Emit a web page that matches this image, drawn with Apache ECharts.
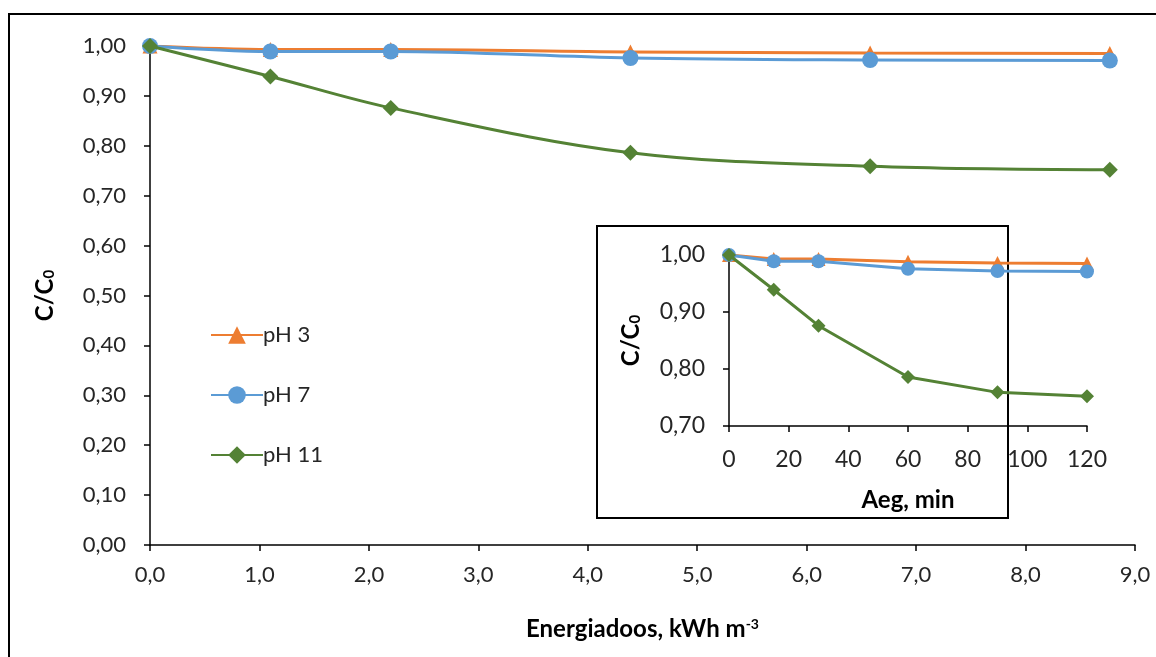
<!DOCTYPE html>
<html><head><meta charset="utf-8">
<script src="https://cdn.jsdelivr.net/npm/echarts@6/dist/echarts.min.js"></script>
<style>html,body{margin:0;padding:0;background:#fff}#c{width:1156px;height:657px}</style>
</head><body><div id="c"></div>
<script>
// Data
const timeMin = [0, 15, 30, 60, 90, 120];
const energy = [0, 1.1, 2.2, 4.39, 6.58, 8.77];
const seriesNames = ['pH 3', 'pH 7', 'pH 11'];
const pH3 = [1.000, 0.993, 0.993, 0.988, 0.986, 0.985];
const pH7 = [1.000, 0.989, 0.989, 0.976, 0.972, 0.971];
const pH11 = [1.000, 0.939, 0.876, 0.786, 0.759, 0.752];

const colors = ['#ED7D31', '#5B9BD5', '#548235'];
const symbols = ['triangle', 'circle', 'diamond'];
const allVals = [pH3, pH7, pH11];
const FONT = 'Lato';

const chart = echarts.init(document.getElementById('c'));
const fmt2 = v => v.toFixed(2).replace('.', ',');
const fmt1 = v => v.toFixed(1).replace('.', ',');

function axisCommon() {
  return {
    axisLine: {show: true, lineStyle: {color: '#000', width: 1.5}},
    axisTick: {show: true, length: 6, lineStyle: {color: '#000', width: 1.5}},
    splitLine: {show: false},
  };
}
const labelStyle = {color: '#262626', fontFamily: FONT, fontSize: 22};
const insetLabelStyle = {color: '#262626', fontFamily: FONT, fontSize: 23};
const nameRich = {
  b: {fontFamily: FONT, fontWeight: 'bold', fontSize: 24, color: '#000'},
  sub: {fontFamily: FONT, fontWeight: 'bold', fontSize: 15, color: '#000', verticalAlign: 'bottom', padding: [9, 0, 0, 0]},
  sup: {fontFamily: FONT, fontWeight: 'bold', fontSize: 14, color: '#000', verticalAlign: 'top', padding: [0, 0, 9, 0]}
};

const series = [];
allVals.forEach((vals, i) => {
  series.push({
    name: seriesNames[i], type: 'line', xAxisIndex: 0, yAxisIndex: 0,
    data: energy.map((x, k) => [x, vals[k]]),
    smooth: 0.35, symbol: symbols[i], symbolSize: i === 0 ? 15 : 16,
    lineStyle: {color: colors[i], width: 3}, itemStyle: {color: colors[i]},
    z: 2 + i
  });
});
allVals.forEach((vals, i) => {
  series.push({
    name: seriesNames[i], type: 'line', xAxisIndex: 1, yAxisIndex: 1,
    data: timeMin.map((x, k) => [x, vals[k]]),
    smooth: false, symbol: symbols[i], symbolSize: 14,
    lineStyle: {color: colors[i], width: 3}, itemStyle: {color: colors[i]},
    z: 2 + i
  });
});

chart.setOption({
  animation: false,
  backgroundColor: '#fff',
  graphic: [
    {type: 'rect', shape: {x: 9, y: 14, width: 1160, height: 660}, style: {fill: 'none', stroke: '#000', lineWidth: 2}},
    {type: 'rect', shape: {x: 597, y: 226, width: 411, height: 292}, style: {fill: 'none', stroke: '#000', lineWidth: 2}}
  ],
  legend: {
    orient: 'vertical', left: 205, top: 319, itemGap: 38, itemWidth: 52, itemHeight: 22,
    data: seriesNames,
    textStyle: {fontFamily: FONT, fontSize: 22, color: '#262626', padding: [0, 0, 0, -5]}
  },
  grid: [
    {left: 150, top: 46, right: 21, bottom: 112, containLabel: false},
    {left: 729, top: 255, right: 69, bottom: 231, containLabel: false}
  ],
  xAxis: [
    Object.assign(axisCommon(), {
      type: 'value', gridIndex: 0, min: 0, max: 9, interval: 1,
      axisLabel: Object.assign({formatter: fmt1, margin: 19}, labelStyle),
      name: '{b|Energiadoos, kWh m}{sup|-3}', nameLocation: 'middle', nameGap: 72,
      nameTextStyle: {rich: nameRich}
    }),
    Object.assign(axisCommon(), {
      type: 'value', gridIndex: 1, min: 0, max: 120, interval: 20,
      axisLabel: Object.assign({formatter: v => String(v), margin: 22}, insetLabelStyle),
      name: '{b|Aeg, min}', nameLocation: 'middle', nameGap: 62,
      nameTextStyle: {rich: nameRich}
    })
  ],
  yAxis: [
    Object.assign(axisCommon(), {
      type: 'value', gridIndex: 0, min: 0, max: 1, interval: 0.1,
      axisLabel: Object.assign({formatter: fmt2, margin: 24}, labelStyle),
      name: '{b|C/C}{sub|0}', nameLocation: 'middle', nameGap: 93, nameRotate: 90,
      nameTextStyle: {rich: nameRich}
    }),
    Object.assign(axisCommon(), {
      type: 'value', gridIndex: 1, min: 0.7, max: 1, interval: 0.1,
      axisLabel: Object.assign({formatter: fmt2, margin: 24}, insetLabelStyle),
      name: '{b|C/C}{sub|0}', nameLocation: 'middle', nameGap: 86, nameRotate: 90,
      nameTextStyle: {rich: nameRich}
    })
  ],
  series: series
});
</script></body></html>
